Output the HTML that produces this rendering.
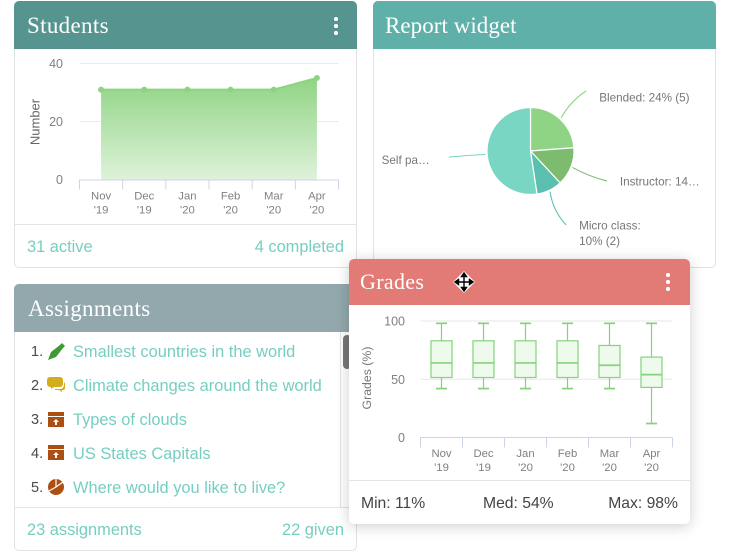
<!DOCTYPE html>
<html lang="en">
<head>
<meta charset="utf-8">
<title>Dashboard widgets</title>
<style>
html,body{margin:0;padding:0;background:#fff;width:730px;height:551px;overflow:hidden;font-family:"Liberation Sans",sans-serif}
.card{position:absolute;background:#fff;border:1px solid #dfe3e6;border-radius:5px;box-sizing:border-box}
.head{position:absolute;left:-1px;right:-1px;top:-1px;border-radius:5px 5px 0 0}
.title{position:absolute;font-family:"Liberation Serif",serif;font-size:23px;color:#fff;white-space:nowrap;line-height:26px;letter-spacing:.33px}
.t{position:absolute;white-space:nowrap;line-height:22px}
.teal{color:#76cec1;font-size:16.4px}
.dark{color:#4a4a4a;font-size:14.5px}
.stat{color:#444;font-size:15.7px}
.line{position:absolute;background:#e2e5e8}
.dots{position:absolute;width:4px;height:18px}
.dots i{display:block;width:3.6px;height:3.6px;border-radius:50%;background:#fff;margin-bottom:3.4px}
svg{position:absolute;left:0;top:0;overflow:visible}
svg text{font-family:"Liberation Sans",sans-serif}
</style>
</head>
<body>
<div class="card" style="left:14px;top:1px;width:343px;height:267px">
  <div class="head" style="height:48px;background:#56958f"></div>
  <div class="title" style="left:12px;top:11px">Students</div>
  <div class="dots" style="left:319px;top:15px"><i></i><i></i><i></i></div>
  <div class="line" style="left:0;right:0;top:222px;height:1px"></div>
  <div class="t teal" style="left:12px;top:234px">31 active</div>
  <div class="t teal" style="right:12px;top:234px">4 completed</div>
</div>
<div class="card" style="left:373px;top:1px;width:343px;height:267px">
  <div class="head" style="height:48px;background:#5fb0a9"></div>
  <div class="title" style="left:11px;top:11px;letter-spacing:.05px">Report widget</div>
</div>
<div class="card" style="left:14px;top:284px;width:343px;height:267px">
  <div class="head" style="height:48px;background:#92a8ad"></div>
  <div class="title" style="left:13px;top:11px">Assignments</div>
  <div class="line" style="left:325px;top:47px;width:1px;height:175px"></div>
  <div style="position:absolute;left:328px;top:50px;width:8px;height:34px;background:#777;border-radius:4px"></div>
  <div class="t dark" style="left:16px;top:56px">1.</div>
  <div class="t teal" style="left:58px;top:56px">Smallest countries in the world</div>
  <div class="t dark" style="left:16px;top:90px">2.</div>
  <div class="t teal" style="left:58px;top:90px">Climate changes around the world</div>
  <div class="t dark" style="left:16px;top:124px">3.</div>
  <div class="t teal" style="left:58px;top:124px">Types of clouds</div>
  <div class="t dark" style="left:16px;top:158px">4.</div>
  <div class="t teal" style="left:58px;top:158px">US States Capitals</div>
  <div class="t dark" style="left:16px;top:192px">5.</div>
  <div class="t teal" style="left:58px;top:192px">Where would you like to live?</div>
  <div class="line" style="left:0;right:0;top:222px;height:1px"></div>
  <div class="t teal" style="left:12px;top:234px">23 assignments</div>
  <div class="t teal" style="right:12px;top:234px">22 given</div>
</div>
<svg width="730" height="551" style="z-index:1">
  <g><polygon points="48,360 51,352 60,345 62,343 65,346 63,348 56,357" fill="#3f9a35"/></g>
  <g><path d="M50 377h10a3 3 0 0 1 3 3v4a3 3 0 0 1-3 3h-6l-3 2v-2h-1a3 3 0 0 1-3-3v-4a3 3 0 0 1 3-3z" fill="#d4ad1d"/><path d="M64 382a2 2 0 0 1 1 2v4a2 2 0 0 1-2 2h-1v2l-3-2h-4v-1h5a4 4 0 0 0 4-4z" fill="#d4ad1d"/></g>
  <g><rect x="48" y="412" width="16" height="4" fill="#ad4f12"/><rect x="48" y="417" width="16" height="10" fill="#ad4f12"/><polygon points="56,419 59,422 57,422 57,425 55,425 55,422 53,422" fill="#fff"/></g>
  <g><rect x="48" y="445" width="16" height="4" fill="#ad4f12"/><rect x="48" y="450" width="16" height="10" fill="#ad4f12"/><polygon points="56,452 59,455 57,455 57,458 55,458 55,455 53,455" fill="#fff"/></g>
  <g><circle cx="56" cy="487" r="8" fill="#ad4f12"/><path d="M56 487V479M56 487L49 491M56 487L63 482" stroke="#fff" stroke-width="1.2" fill="none"/></g>
</svg>
<svg id="students-chart" width="730" height="551" style="z-index:1"></svg>
<svg id="report-chart" width="730" height="551" style="z-index:1"></svg>

<div class="card" style="left:349px;top:259px;width:341px;height:265px;border:0;box-shadow:0 2px 14px rgba(0,0,0,.2);z-index:2">
  <div class="head" style="left:0;right:0;top:0;height:46px;background:#e27a75"></div>
  <div class="title" style="left:11px;top:10px;font-size:22px">Grades</div>
  <div class="dots" style="left:317px;top:14px"><i></i><i></i><i></i></div>
  <div class="line" style="left:0;right:0;top:221px;height:1px"></div>
  <div class="t stat" style="left:12px;top:234px">Min: 11%</div>
  <div class="t stat" style="left:134px;top:234px">Med: 54%</div>
  <div class="t stat" style="right:12px;top:234px">Max: 98%</div>
</div>
<svg id="grades-chart" width="730" height="551" style="z-index:3"></svg>
<svg width="730" height="551" style="z-index:4">
  <polygon points="464,271 475,282 464,293 453,282" fill="#fff"/>
  <path d="M464 274V290M456 282H472M464 273l-2.5 3.5h5zM464 291l-2.5-3.5h5zM455 282l3.5-2.5v5zM473 282l-3.5-2.5v5z" stroke="#000" stroke-width="1.4" fill="#000"/>
</svg>

<script>
// Students area chart data
const studentCategories = [["Nov","'19"],["Dec","'19"],["Jan","'20"],["Feb","'20"],["Mar","'20"],["Apr","'20"]];
const studentValues = [31,31,31,31,31,35];
const studentTicks = [0,20,40];
// Report pie data
const pieNames = [["Blended: 24% (5)"],["Instructor: 14…"],["Micro class:","10% (2)"],["Self pa…"]];
const pieValues = [5,3,2,11];
// Grades box plot data
const gradeCategories = [["Nov","'19"],["Dec","'19"],["Jan","'20"],["Feb","'20"],["Mar","'20"],["Apr","'20"]];
const gradeMin = [42,42,42,42,42,12];
const gradeQ1 = [51.5,51.5,51.5,51.5,51.5,43];
const gradeMedian = [64,64,64,64,62,54];
const gradeQ3 = [83,83,83,83,79,69];
const gradeMax = [98,98,98,98,98,98];
const gradeTicks = [0,50,100];

const NS = "http://www.w3.org/2000/svg";
function mk(parent, tag, attrs, text) {
  const el = document.createElementNS(NS, tag);
  for (const k in attrs) el.setAttribute(k, attrs[k]);
  if (text !== undefined) el.textContent = text;
  parent.appendChild(el);
  return el;
}
const tickColor = "#ccd5e6", labelColor = "#808080";

// ---------- Students ----------
(function () {
  const svg = document.getElementById("students-chart");
  const x0 = 79.5, x1 = 338.5, yBase = 179.5, pxPerUnit = 2.9;
  const band = (x1 - x0) / studentCategories.length;
  const xScale = i => x0 + band * (i + 0.5);
  const yScale = v => yBase - v * pxPerUnit;
  const defs = mk(svg, "defs", {});
  const grad = mk(defs, "linearGradient", {id: "areaGrad", x1: 0, y1: 0, x2: 0, y2: 1});
  mk(grad, "stop", {offset: "0", "stop-color": "#90d484"});
  mk(grad, "stop", {offset: "1", "stop-color": "#def2da"});
  studentTicks.forEach(t => {
    if (t > 0) {
      const g = mk(svg, "line", {x1: x0, x2: x1, y1: yScale(t), y2: yScale(t), stroke: "#e8eaed"});
      
      
    }
    const l = mk(svg, "text", {x: 63, y: yScale(t) + 4.5, "text-anchor": "end", "font-size": 12.5, fill: labelColor}, t);
    
    
  });
  const yt = mk(svg, "text", {transform: "translate(39.5,122) rotate(-90)", "text-anchor": "middle", "font-size": 13, fill: "#666"}, "Number");
  
  
  let d = "M" + xScale(0) + " " + yBase;
  studentValues.forEach((v, i) => { d += "L" + xScale(i) + " " + yScale(v); });
  d += "L" + xScale(studentValues.length - 1) + " " + yBase + "Z";
  const area = mk(svg, "path", {d: d, fill: "url(#areaGrad)"});
  
  
  const line = mk(svg, "polyline", {points: studentValues.map((v, i) => xScale(i) + "," + yScale(v)).join(" "), fill: "none", stroke: "#8dd480", "stroke-width": 2});
  
  
  studentValues.forEach((v, i) => {
    const p = mk(svg, "circle", {cx: xScale(i), cy: yScale(v), r: 3, fill: "#8dd480"});
    
    
  });
  const ax = mk(svg, "line", {x1: x0, x2: x1, y1: yBase + .5, y2: yBase + .5, stroke: tickColor});
  
  
  for (let i = 0; i <= studentCategories.length; i++) {
    const t = mk(svg, "line", {x1: x0 + band * i, x2: x0 + band * i, y1: yBase, y2: yBase + 10, stroke: tickColor});
    
    
  }
  studentCategories.forEach((c, i) => {
    c.forEach((s, j) => {
      const l = mk(svg, "text", {x: xScale(i), y: 199.5 + j * 14, "text-anchor": "middle", "font-size": 11.3, fill: labelColor}, s);
      
      
    });
  });
})();

// ---------- Pie ----------
(function () {
  const svg = document.getElementById("report-chart");
  const cx = 530.5, cy = 151, r = 43.5;
  const sliceColors = ["#8fd485", "#7dbb6f", "#5bbfb0", "#78d6c2"];
  const total = pieValues.reduce((a, b) => a + b, 0);
  const pt = (ang, rad) => [cx + Math.sin(ang) * rad, cy - Math.cos(ang) * rad];
  let acc = 0;
  pieValues.forEach((v, i) => {
    const a0 = acc / total * 2 * Math.PI;
    acc += v;
    const a1 = acc / total * 2 * Math.PI;
    const mid = (a0 + a1) / 2;
    const p0 = pt(a0, r), p1 = pt(a1, r);
    const s = mk(svg, "path", {
      d: "M" + cx + " " + cy + "L" + p0[0] + " " + p0[1] + "A" + r + " " + r + " 0 " + (a1 - a0 > Math.PI ? 1 : 0) + " 1 " + p1[0] + " " + p1[1] + "Z",
      fill: sliceColors[i], stroke: "#fff", "stroke-width": 1.2
    });
    
    
    const a = pt(mid, r + 1.5), b = pt(mid, 82), c = pt(mid - 0.1 * Math.cos(mid), 64);
    const leader = mk(svg, "path", {d: "M" + a[0] + " " + a[1] + "Q" + c[0] + " " + c[1] + " " + b[0] + " " + b[1], fill: "none", stroke: sliceColors[i], "stroke-width": 1.1});
    
    
    const right = mid < Math.PI;
    pieNames[i].forEach((txt, j) => {
      const l = mk(svg, "text", {x: b[0] + (right ? 13 : -19), y: b[1] + (right ? 4.5 + 8 * Math.max(Math.cos(mid), 0) : 7) + j * 15.5, "text-anchor": right ? "start" : "end", "font-size": 11.7, fill: "#777"}, txt);
      
      
    });
  });
})();

// ---------- Grades ----------
(function () {
  const svg = document.getElementById("grades-chart");
  const x0 = 420.5, x1 = 672.5, yBase = 437.5, pxPerUnit = 1.165;
  const band = (x1 - x0) / gradeCategories.length;
  const xScale = i => x0 + band * (i + 0.5);
  const yScale = v => yBase - v * pxPerUnit;
  const col = "#86d27c";
  gradeTicks.forEach(t => {
    if (t > 0) {
      const g = mk(svg, "line", {x1: x0, x2: x1, y1: yScale(t), y2: yScale(t), stroke: "#e6e8ea"});
      
      
    }
    const l = mk(svg, "text", {x: 405, y: yScale(t) + 4.5, "text-anchor": "end", "font-size": 12.5, fill: labelColor}, t);
    
    
  });
  const yt = mk(svg, "text", {transform: "translate(371,378) rotate(-90)", "text-anchor": "middle", "font-size": 12.3, fill: "#777"}, "Grades (%)");
  
  
  gradeCategories.forEach((c, i) => {
    const x = xScale(i), w = 21, cap = 11;
    const whisker = mk(svg, "line", {x1: x, x2: x, y1: yScale(gradeMax[i]), y2: yScale(gradeMin[i]), stroke: col, "stroke-width": 1.2});
    
    
    [gradeMax[i], gradeMin[i]].forEach(v => {
      const cp = mk(svg, "line", {x1: x - cap / 2, x2: x + cap / 2, y1: yScale(v), y2: yScale(v), stroke: col, "stroke-width": 1.7});
      
      
    });
    const box = mk(svg, "rect", {x: x - w / 2, y: yScale(gradeQ3[i]), width: w, height: yScale(gradeQ1[i]) - yScale(gradeQ3[i]), fill: "#eefaec", stroke: col, "stroke-width": 1.2});
    
    
    const med = mk(svg, "line", {x1: x - w / 2, x2: x + w / 2, y1: yScale(gradeMedian[i]), y2: yScale(gradeMedian[i]), stroke: col, "stroke-width": 1.7});
    
    
    c.forEach((s, j) => {
      const l = mk(svg, "text", {x: x, y: 457 + j * 14, "text-anchor": "middle", "font-size": 11.3, fill: labelColor}, s);
      
      
    });
  });
  const ax = mk(svg, "line", {x1: x0, x2: x1, y1: yBase, y2: yBase, stroke: tickColor});
  
  
  for (let i = 0; i <= gradeCategories.length; i++) {
    const t = mk(svg, "line", {x1: x0 + band * i, x2: x0 + band * i, y1: yBase, y2: yBase + 10, stroke: tickColor});
    
    
  }
})();
</script>
</body>
</html>
